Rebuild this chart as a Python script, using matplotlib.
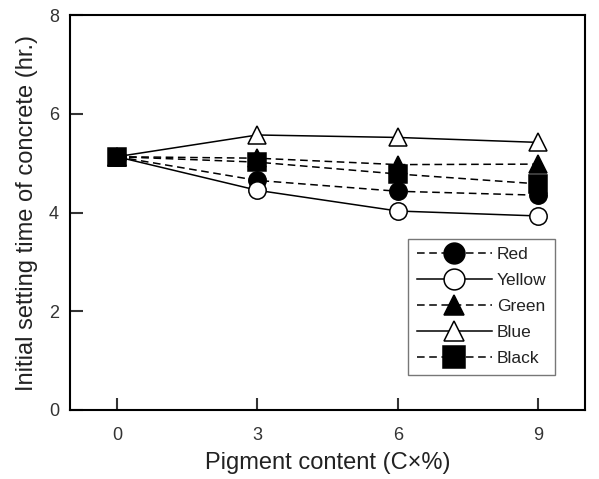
import matplotlib
matplotlib.use("Agg")
import matplotlib.pyplot as plt

plt.rcParams['font.family'] = ['Liberation Sans', 'DejaVu Sans']

x = [0, 3, 6, 9]
red = [5.13, 4.65, 4.43, 4.35]
yellow = [5.13, 4.45, 4.03, 3.93]
green = [5.13, 5.10, 4.97, 4.98]
blue = [5.13, 5.57, 5.52, 5.42]
black = [5.13, 5.02, 4.78, 4.58]
labels = ['Red', 'Yellow', 'Green', 'Blue', 'Black']

fig = plt.figure(figsize=(5.99, 4.79), dpi=100)
ax = fig.add_axes([70/599, 1 - 410/479, (585-70)/599, (410-15)/479])

dash = (0, (5, 3))
series = [
    (red, 'o', 'black', dash, 12.5),
    (yellow, 'o', 'white', '-', 12.5),
    (green, '^', 'black', dash, 12.5),
    (blue, '^', 'white', '-', 12.5),
    (black, 's', 'black', dash, 13.5),
]
for (vals, m, fc, ls, ms), lab in zip(series, labels):
    ax.plot(x, vals, linestyle=ls, color='black', lw=1.1, marker=m,
            markerfacecolor=fc, markeredgecolor='black', markeredgewidth=1.1,
            markersize=ms, label=lab)

ax.set_xlim(-1, 10)
ax.set_ylim(0, 8)
ax.set_xticks([0, 3, 6, 9])
ax.set_yticks([0, 2, 4, 6, 8])
ax.tick_params(direction='in', length=9, width=1.5, labelsize=13, colors='#333333',
               top=False, right=False)
ax.tick_params(axis='x', pad=12)
ax.tick_params(axis='y', pad=8)
for s in ax.spines.values():
    s.set_linewidth(1.5)
ax.set_xlabel('Pigment content (C×%)', fontsize=17, color='#222222', labelpad=6)
ax.set_ylabel('Initial setting time of concrete (hr.)', fontsize=17, color='#222222', labelpad=8)

leg = ax.legend(loc='lower right', bbox_to_anchor=(0.942, 0.089), fontsize=12.5,
                handlelength=4.3, markerscale=1.2, frameon=True, fancybox=False,
                edgecolor='#555555', borderpad=0.5, labelspacing=0.62, handletextpad=0.3,
                borderaxespad=0)
leg.get_frame().set_linewidth(1.0)
for t in leg.get_texts():
    t.set_color('#222222')

fig.savefig('out.png', dpi=100)
